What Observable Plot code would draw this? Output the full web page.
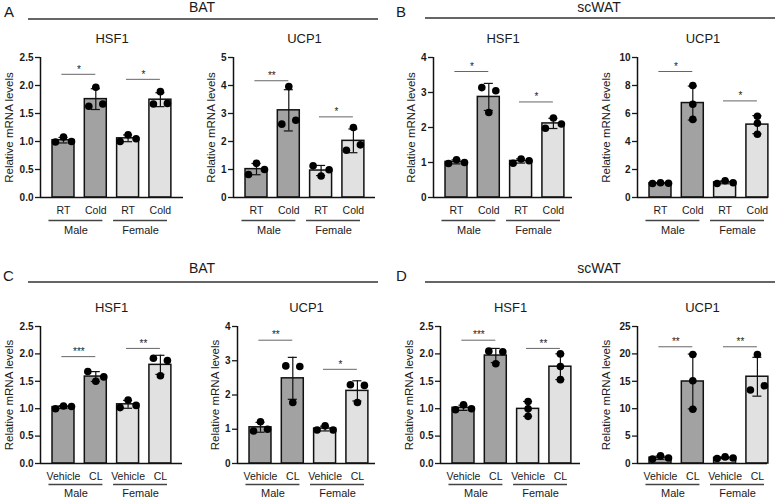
<!DOCTYPE html>
<html>
<head>
<meta charset="utf-8">
<script src="https://cdn.jsdelivr.net/npm/d3@7"></script>
<script src="https://cdn.jsdelivr.net/npm/@observablehq/plot@0.6"></script>
<style>
  html, body { margin: 0; padding: 0; background: #fff; overflow: hidden; }
  #fig { position: relative; width: 778px; height: 500px; background: #fff; font-family: "Liberation Sans", Arial, sans-serif; overflow: hidden; }
  #hdr { position: absolute; left: 0; top: 0; }
</style>
</head>
<body>
<div id="fig"></div>
<script>
// ---------- data ----------
const sexes = ["Male", "Female"];
const coldConditions = ["RT", "Cold"];
const clConditions = ["Vehicle", "CL"];
const genes = ["HSF1", "UCP1"];
const tissues = ["BAT", "scWAT"];
const panelLetters = ["A", "B", "C", "D"];
const yLabel = "Relative mRNA levels";

// replicates per bar: [Male cond1, Male cond2, Female cond1, Female cond2]
const batColdHSF1   = [[0.99, 1.08, 1.00], [1.63, 1.97, 1.67], [1.00, 1.12, 1.05], [1.67, 1.89, 1.68]];
const batColdUCP1   = [[0.82, 1.22, 1.00], [2.62, 3.96, 2.76], [1.13, 0.77, 0.99], [1.69, 2.50, 1.88]];
const scwatColdHSF1 = [[0.97, 1.08, 1.00], [3.14, 2.43, 3.05], [0.98, 1.10, 1.05], [1.98, 2.27, 2.10]];
const scwatColdUCP1 = [[1.00, 1.05, 1.02], [6.66, 8.00, 5.58], [1.00, 1.20, 1.05], [5.30, 5.80, 4.52]];
const batCLHSF1     = [[1.00, 1.05, 1.04], [1.68, 1.50, 1.58], [1.02, 1.16, 1.06], [1.92, 1.60, 1.88]];
const batCLUCP1     = [[0.95, 1.22, 1.00], [2.85, 1.78, 2.83], [0.98, 1.10, 0.98], [2.30, 1.78, 2.28]];
const scwatCLHSF1   = [[0.98, 1.07, 1.00], [2.05, 1.82, 2.04], [1.13, 1.00, 0.86], [2.00, 1.77, 1.53]];
const scwatCLUCP1   = [[0.80, 1.40, 1.00], [19.9, 15.1, 9.9], [0.90, 1.20, 1.00], [13.4, 19.9, 14.2]];

// significance bar heights and labels (Male pair, Female pair), panel order A-HSF1, A-UCP1, B-HSF1, B-UCP1, C-HSF1, C-UCP1, D-HSF1, D-UCP1
const sigHeights = [[2.20, 2.11], [4.17, 2.88], [3.60, 2.73], [9.0, 6.9], [1.95, 2.10], [3.60, 2.75], [2.25, 2.10], [21.3, 21.3]];
const sigStars   = [["*", "*"], ["**", "*"], ["*", "*"], ["*", "*"], ["***", "**"], ["**", "*"], ["***", "**"], ["**", "**"]];
const yMaxes = [2.5, 5, 4, 10, 2.5, 4, 2.5, 25];
const ySteps = [0.5, 1, 1, 2, 0.5, 1, 0.5, 5];

// ---------- layout ----------
const panelLeft  = [40, 233, 433, 637, 40, 237, 440, 637];
const panelRight = [183, 375, 572, 768, 182, 375, 580, 767];
const rowTop = [57, 326], rowBottom = [197, 463];
const rowLabelDy = [[13, 23, 33], [13, 21, 30]];
const barColors = ["#a2a2a2", "#e1e1e1"];
const pxPerBar = 32.3, firstBarOffset = 23;
const mL = 46, mT = 30, mR = 8, mB = 46;

const specs = [
  {reps: batColdHSF1, conds: coldConditions, gene: genes[0]},
  {reps: batColdUCP1, conds: coldConditions, gene: genes[1]},
  {reps: scwatColdHSF1, conds: coldConditions, gene: genes[0]},
  {reps: scwatColdUCP1, conds: coldConditions, gene: genes[1]},
  {reps: batCLHSF1, conds: clConditions, gene: genes[0]},
  {reps: batCLUCP1, conds: clConditions, gene: genes[1]},
  {reps: scwatCLHSF1, conds: clConditions, gene: genes[0]},
  {reps: scwatCLUCP1, conds: clConditions, gene: genes[1]}
];

// Prism-like horizontal spread of overlapping replicate dots (pixel offsets)
function spread(vals, pxPerUnit) {
  const idx = d3.range(vals.length).sort((a, b) => vals[a] - vals[b]);
  const clusters = [];
  let cur = [idx[0]];
  for (let j = 1; j < idx.length; j++) {
    if ((vals[idx[j]] - vals[idx[j - 1]]) * pxPerUnit < 6.5) cur.push(idx[j]);
    else { clusters.push(cur); cur = [idx[j]]; }
  }
  clusters.push(cur);
  const patterns = {1: [0], 2: [-7, 7], 3: [-8, 0, 8]};
  const off = new Array(vals.length).fill(0);
  for (const c of clusters) {
    c.sort((a, b) => a - b);
    c.forEach((j, m) => off[j] = patterns[c.length][m]);
  }
  return off;
}

const fig = document.getElementById("fig");
const font = "Liberation Sans, Arial, sans-serif";
const ink = "#1a1a1a";

specs.forEach((s, k) => {
  const row = k < 4 ? 0 : 1;
  const fw = panelRight[k] - panelLeft[k];
  const fh = rowBottom[row] - rowTop[row];
  const yMax = yMaxes[k], step = ySteps[k];
  const x0 = -firstBarOffset / pxPerBar;
  const x1 = x0 + fw / pxPerBar;
  const pxY = fh / yMax;
  const [dyTick, dyLine, dyGroup] = rowLabelDy[row];

  const bars = s.reps.map((r, i) => ({
    i, sex: sexes[Math.floor(i / 2)], cond: s.conds[i % 2],
    mean: d3.mean(r), sd: d3.deviation(r)
  }));
  const dots = [];
  s.reps.forEach((r, i) => {
    const off = spread(r, pxY);
    r.forEach((v, j) => dots.push({x: i + off[j] / pxPerBar, y: v}));
  });
  const groups = sexes.map((g, gi) => ({label: g, a: 2 * gi - 0.45, b: 2 * gi + 1 + 0.22}));
  const sig = sexes.map((g, gi) => ({y: sigHeights[k][gi], label: sigStars[k][gi], a: 2 * gi - 0.05, b: 2 * gi + 1}));

  const ticks = d3.range(0, yMax + step / 2, step);
  const fmt = step < 1 ? d3.format(".1f") : d3.format("d");
  const maxChars = d3.max(ticks, t => fmt(t).length);
  const labelOffset = maxChars === 1 ? 22 : 31;

  const chart = Plot.plot({
    width: mL + fw + mR,
    height: mT + fh + mB,
    marginLeft: mL, marginTop: mT, marginRight: mR, marginBottom: mB,
    x: {domain: [x0, x1], axis: null},
    y: {domain: [0, yMax], axis: null},
    color: {domain: sexes, range: barColors},
    style: {background: "transparent", overflow: "visible", fontFamily: font, color: ink},
    marks: [
      Plot.rectY(bars, {x1: d => d.i - 0.34, x2: d => d.i + 0.34, y: "mean", fill: "sex", stroke: "#111", strokeWidth: 1.5}),
      Plot.ruleX(bars, {x: "i", y1: d => d.mean - d.sd, y2: d => d.mean + d.sd, stroke: "#111", strokeWidth: 1.2}),
      Plot.ruleY(bars, {y: d => d.mean + d.sd, x1: d => d.i - 0.14, x2: d => d.i + 0.14, stroke: "#111", strokeWidth: 1.2}),
      Plot.ruleY(bars, {y: d => Math.max(0, d.mean - d.sd), x1: d => d.i - 0.14, x2: d => d.i + 0.14, stroke: "#111", strokeWidth: 1.2}),
      Plot.dot(dots, {x: "x", y: "y", r: 3.8, fill: "#000", stroke: "none"}),
      Plot.axisY({ticks, tickFormat: fmt, tickSize: 5, tickPadding: 2, fontSize: 10, fontWeight: "bold", label: null, strokeWidth: 1.3, fill: ink}),
      Plot.ruleX([x0], {y1: 0, y2: yMax, stroke: "#111", strokeWidth: 1.5}),
      Plot.ruleY([0], {stroke: "#111", strokeWidth: 1.5}),
      Plot.text([yLabel], {frameAnchor: "left", textAnchor: "middle", rotate: -90, dx: -labelOffset, fontSize: 11.5, fill: ink}),
      Plot.text(bars, {x: "i", y: 0, text: "cond", dy: dyTick, fontSize: 10.5, fill: ink}),
      Plot.ruleY(groups, {y: 0, x1: "a", x2: "b", dy: dyLine, stroke: "#444", strokeWidth: 1.3}),
      Plot.text(groups, {x: d => (d.a + d.b) / 2, y: 0, text: "label", dy: dyGroup, fontSize: 11, fill: ink}),
      Plot.ruleY(sig, {y: "y", x1: "a", x2: "b", stroke: "#555", strokeWidth: 0.9}),
      Plot.text(sig, {x: d => (d.a + d.b) / 2, y: "y", text: "label", dy: -5, fontSize: 10, fill: "#222"}),
      Plot.text([s.gene], {frameAnchor: "top", dy: -24, fontSize: 13, fill: ink})
    ]
  });
  chart.style.position = "absolute";
  chart.style.left = (panelLeft[k] - mL) + "px";
  chart.style.top = (rowTop[row] - mT) + "px";
  fig.appendChild(chart);
});

// ---------- panel headers ----------
const NS = "http://www.w3.org/2000/svg";
const hdr = document.createElementNS(NS, "svg");
hdr.setAttribute("id", "hdr");
hdr.setAttribute("width", 778);
hdr.setAttribute("height", 500);
const headerLetterX = [4, 396, 3, 396];
const headerLetterY = [17, 17, 281, 281];
const headerLineX = [[28, 378], [425, 775], [28, 378], [425, 775]];
const headerLineY = [19, 18, 282, 282];
const headerTitleY = [12, 12, 273, 273];
panelLetters.forEach((L, k) => {
  const t = document.createElementNS(NS, "text");
  t.setAttribute("x", headerLetterX[k]); t.setAttribute("y", headerLetterY[k]);
  t.setAttribute("font-size", 15); t.setAttribute("font-family", font); t.setAttribute("fill", ink);
  t.textContent = L; hdr.appendChild(t);
  const ln = document.createElementNS(NS, "line");
  ln.setAttribute("x1", headerLineX[k][0]); ln.setAttribute("x2", headerLineX[k][1]);
  ln.setAttribute("y1", headerLineY[k]); ln.setAttribute("y2", headerLineY[k]);
  ln.setAttribute("stroke", "#333"); ln.setAttribute("stroke-width", 1.4);
  hdr.appendChild(ln);
  const tt = document.createElementNS(NS, "text");
  tt.setAttribute("x", k % 2 === 0 ? 202 : 599); tt.setAttribute("y", headerTitleY[k]);
  tt.setAttribute("text-anchor", "middle");
  tt.setAttribute("font-size", 14); tt.setAttribute("font-family", font); tt.setAttribute("fill", ink);
  tt.textContent = tissues[k % 2]; hdr.appendChild(tt);
});
fig.appendChild(hdr);
</script>
</body>
</html>
